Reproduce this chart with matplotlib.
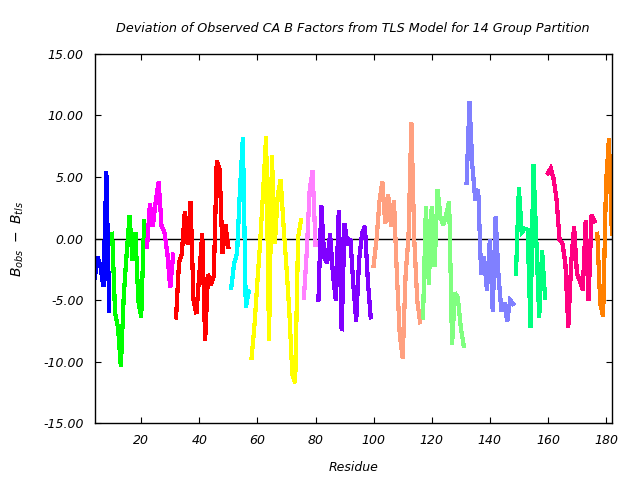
import matplotlib
matplotlib.use("Agg")
import matplotlib.pyplot as plt

# Per-group residue starts and deviation values (B_obs - B_tls)
group_colors = ['#0000ff', '#00ff00', '#ff00ff', '#ff0000', '#00ffff', '#ffff00', '#ff80ff',
                '#8000ff', '#ffa080', '#80ff80', '#8080ff', '#00ff80', '#ff0080', '#ff8000']

g1_start = 4
g1 = [-3.2, -1.5, -2.3, -3.9, 5.4, -5.9]
g2_start = 10
g2 = [0.4, -6.0, -7.2, -10.4, -4.6, -1.2, 1.9, -1.8, 0.5, -5.0, -6.4, 1.4]
g3_start = 22
g3 = [-0.7, 2.8, 1.0, 3.0, 4.6, 1.0, 0.5, -1.2, -4.0, -1.3]
g4_start = 32
g4 = [-6.4, -2.0, -1.2, 2.2, -0.5, 3.0, -5.0, -6.1, -2.9, 0.4, -8.3, -2.9, -3.8, -3.0,
      6.3, 5.6, -1.2, 1.1, -0.7]
g5_start = 51
g5 = [-4.0, -2.0, -1.2, 4.0, 8.2, -5.6, -4.3]
g6_start = 58
g6 = [-9.7, -7.0, -3.5, -0.1, 4.0, 8.3, -8.3, 6.7, -0.4, 3.5, 4.8, 1.0, -2.3, -6.0,
      -11.0, -11.7, 0.1, 1.5]
g7_start = 76
g7 = [-4.8, -1.0, 4.0, 5.5, -0.5]
g8_start = 81
g8 = [-5.0, 2.7, -1.5, -2.0, 0.4, -2.9, -5.0, 2.3, -7.5, 1.2, -0.5, 0.0, -3.7, -6.7,
      -1.8, 0.4, 1.0, -3.4, -6.4]
g9_start = 100
g9 = [-2.2, -0.1, 3.0, 4.6, 1.2, 3.6, 1.0, 3.1, -2.9, -7.8, -9.7, -3.0, 0.1, 9.4,
      -0.1, -5.0, -6.8]
g10_start = 117
g10 = [-6.4, 2.6, -3.7, 2.6, -2.3, 4.0, 1.8, 1.1, 2.0, 3.0, -8.6, -4.4, -4.8, -7.2, -8.7]
g11_start = 132
g11 = [4.5, 11.1, 5.9, 3.1, 4.0, -2.9, -1.5, -4.2, -0.1, -5.9, 1.8, -3.1, -5.9, -5.2,
       -6.7, -5.0, -5.3]
g12_start = 149
g12 = [-2.9, 4.1, 0.5, 0.8, 0.7, -7.2, 6.0, -0.1, -6.4, -1.0, -4.8]
g13_start = 160
g13 = [5.3, 5.7, 4.8, 3.1, -0.1, -0.4, -2.0, -7.2, -2.0, 1.0, -2.9, -3.4, -4.2, 1.5,
       -5.0, 1.9, 1.4]
g14_start = 177
g14 = [0.4, -5.3, -6.3, 4.5, 8.1, 0.4]

groups = [(g1_start, g1), (g2_start, g2), (g3_start, g3), (g4_start, g4), (g5_start, g5),
          (g6_start, g6), (g7_start, g7), (g8_start, g8), (g9_start, g9), (g10_start, g10),
          (g11_start, g11), (g12_start, g12), (g13_start, g13), (g14_start, g14)]

x_ticks = [20, 40, 60, 80, 100, 120, 140, 160, 180]
y_ticks = [-15, -10, -5, 0, 5, 10, 15]

fig = plt.figure(figsize=(6.4, 4.8), dpi=100)
ax = fig.add_axes([0.148, 0.118, 0.808, 0.77])

ax.axhline(0, color='black', linewidth=1.0, zorder=1)
for (start, vals), col in zip(groups, group_colors):
    xs = list(range(start, start + len(vals)))
    ax.plot(xs, vals, color=col, linewidth=2.3, antialiased=False,
            solid_joinstyle='miter', zorder=2)

ax.set_xlim(4, 182)
ax.set_ylim(-15, 15)
ax.set_xticks(x_ticks)
ax.set_yticks(y_ticks)
ax.set_xticklabels([str(t) for t in x_ticks], fontstyle='italic', fontsize=9)
ax.set_yticklabels(['%.2f' % t for t in y_ticks], fontstyle='italic', fontsize=9)
ax.tick_params(direction='in', top=True, right=True, length=4, pad=8)
for s in ax.spines.values():
    s.set_linewidth(1.0)

ax.set_xlabel('Residue', fontstyle='italic', fontsize=9, labelpad=10)
ax.set_ylabel(r'$B_{obs}\ -\ B_{tls}$', fontsize=10, labelpad=12)
ax.set_title('Deviation of Observed CA B Factors from TLS Model for 14 Group Partition',
             fontstyle='italic', fontsize=9.2, pad=16)

fig.savefig('out.png', dpi=100)
